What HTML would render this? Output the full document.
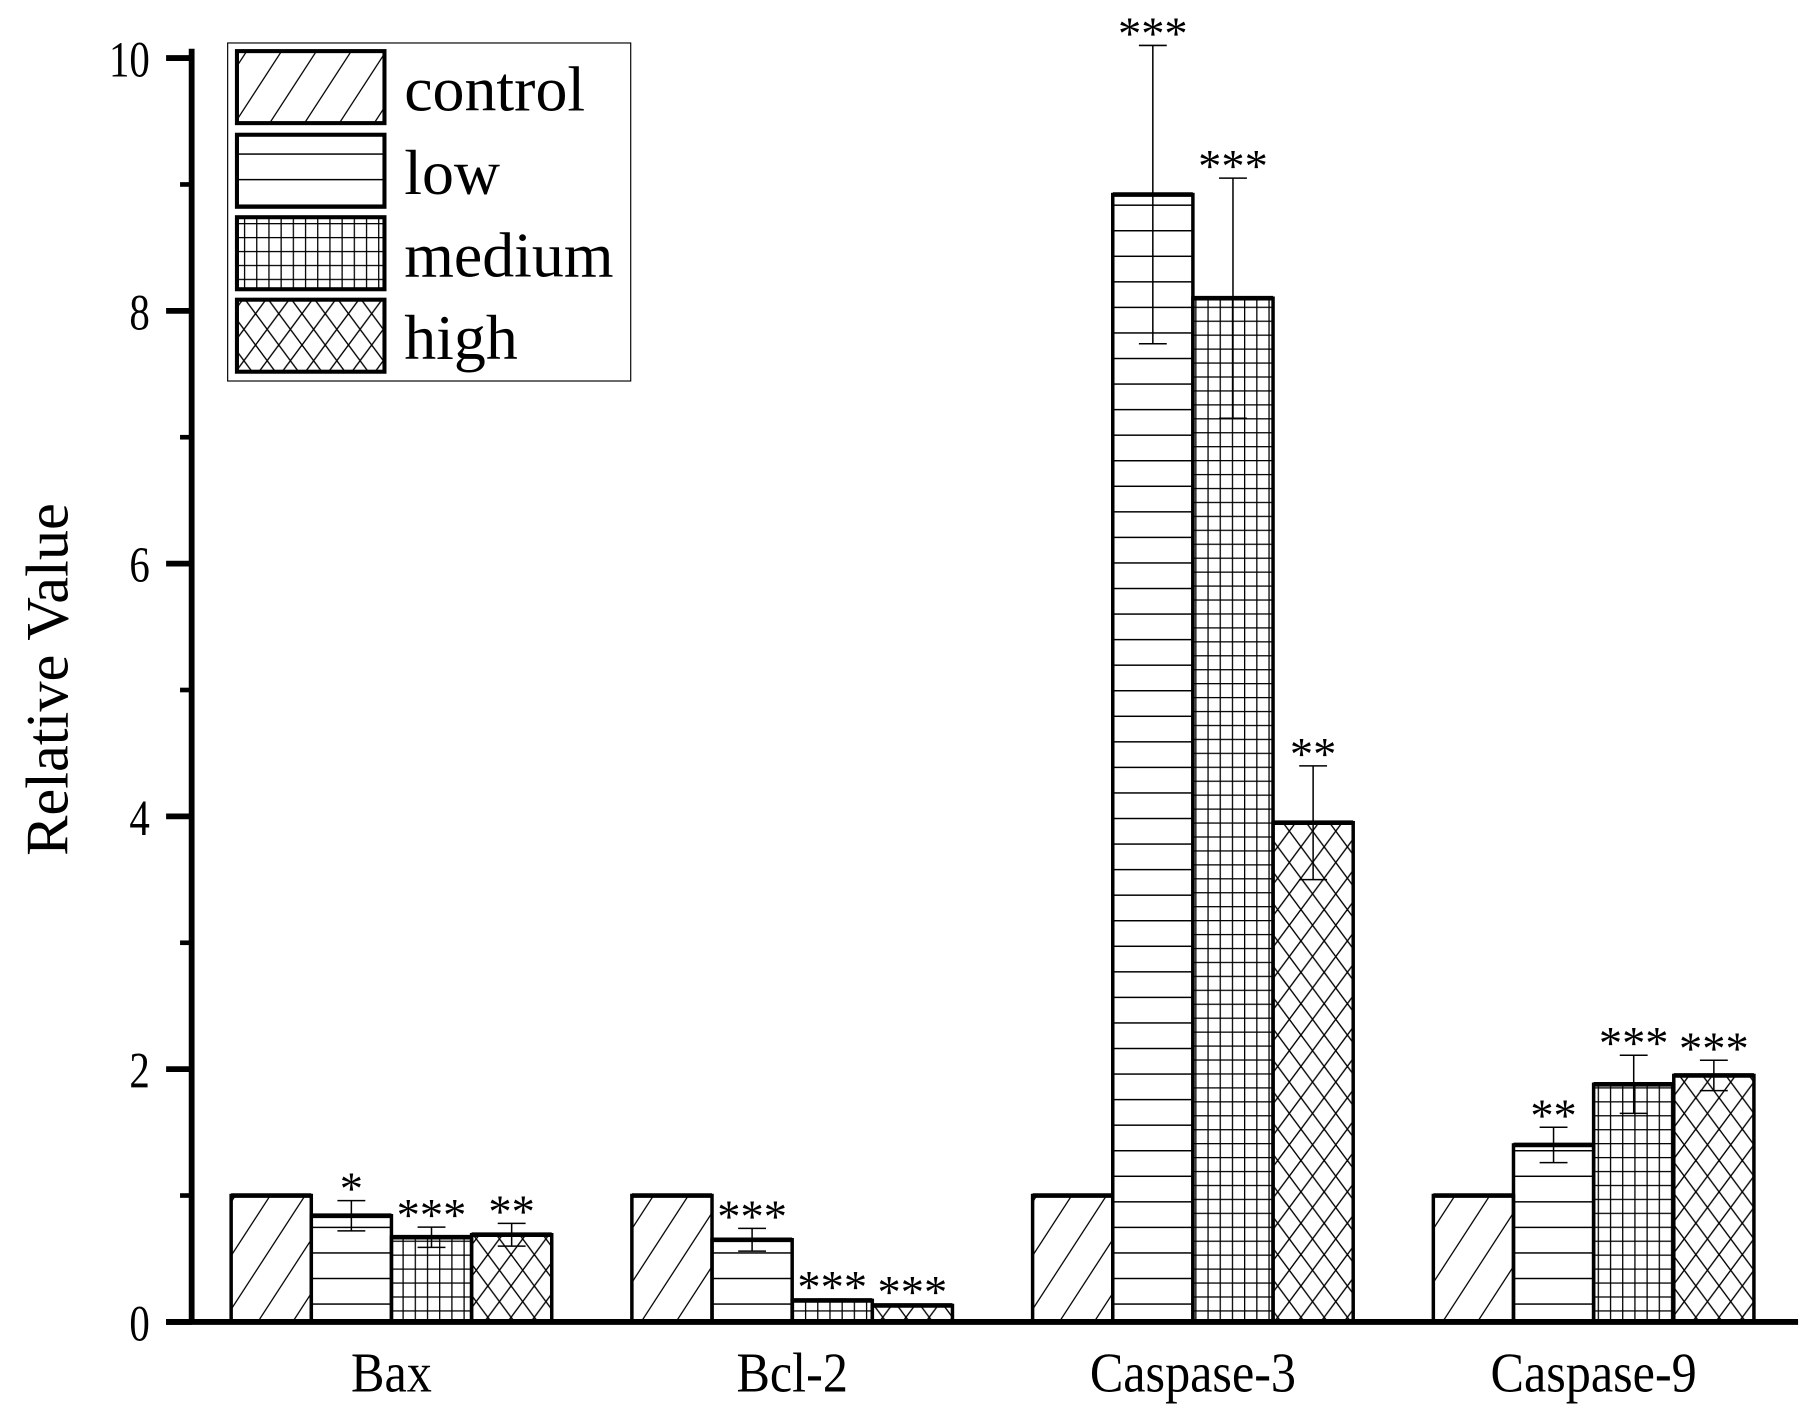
<!DOCTYPE html>
<html><head><meta charset="utf-8"><style>
html,body{margin:0;padding:0;background:#fff;}
svg{display:block;}
text{font-family:"Liberation Serif",serif;fill:#000;}
</style></head><body>
<svg id="chart" width="1812" height="1416" viewBox="0 0 1560 1219" preserveAspectRatio="none" xmlns="http://www.w3.org/2000/svg">
<defs>
<pattern id="p-control" patternUnits="userSpaceOnUse" width="30" height="1219" patternTransform="skewX(-33)">
<line x1="1" y1="0" x2="1" y2="1219" stroke="#000" stroke-width="1.3"/></pattern>
<pattern id="p-low" patternUnits="userSpaceOnUse" width="100" height="22">
<line x1="0" y1="0.5" x2="100" y2="0.5" stroke="#000" stroke-width="1.5"/></pattern>
<pattern id="p-medium" patternUnits="userSpaceOnUse" width="10.5" height="12">
<line x1="0.5" y1="0" x2="0.5" y2="12" stroke="#000" stroke-width="1.2"/>
<line x1="0" y1="0.5" x2="10.5" y2="0.5" stroke="#000" stroke-width="1.2"/></pattern>
<pattern id="p-high" patternUnits="userSpaceOnUse" width="20" height="27">
<line x1="0" y1="0" x2="20" y2="27" stroke="#000" stroke-width="1.2"/>
<line x1="20" y1="0" x2="0" y2="27" stroke="#000" stroke-width="1.2"/></pattern>
</defs>
<g id="plot"></g>
</svg>
<script>
const categories = ["Bax","Bcl-2","Caspase-3","Caspase-9"];
const seriesNames = ["control","low","medium","high"];
const controlVals = [1,1,1,1];
const lowVals = [0.84,0.65,8.92,1.40];
const mediumVals = [0.67,0.17,8.10,1.88];
const highVals = [0.69,0.13,3.95,1.95];
const controlErr = [0,0,0,0];
const lowErr = [0.12,0.09,1.18,0.14];
const mediumErr = [0.08,0.01,0.95,0.23];
const highErr = [0.09,0.01,0.45,0.12];
const lowStars = ["*","***","***","**"];
const mediumStars = ["***","***","***","***"];
const highStars = ["**","***","**","***"];
const controlStars = ["","","",""];
const yTicks = [0,2,4,6,8,10];
const yMinor = [1,3,5,7,9];

const NS="http://www.w3.org/2000/svg";
const g=document.getElementById('plot');
function mk(t,a,p){const e=document.createElementNS(NS,t);for(const k in a)e.setAttribute(k,a[k]);(p||g).appendChild(e);return e;}
const y0=1138, yScale=108.8;
const y=v=>y0-v*yScale;
const groupCenter=i=>337+i*345;
const barW=69;
const barX=(i,s)=>groupCenter(i)-2*barW+s*barW;

const vals=[controlVals,lowVals,mediumVals,highVals];
const errs=[controlErr,lowErr,mediumErr,highErr];
const stars=[controlStars,lowStars,mediumStars,highStars];
const pats=["p-control","p-low","p-medium","p-high"];

categories.forEach((c,i)=>{
  for(let s=0;s<4;s++){
    const x=barX(i,s), v=vals[s][i], top=y(v);
    const r=mk('rect',{x:x,y:top,width:barW,height:y0-top,fill:'url(#'+pats[s]+')',stroke:'#000','stroke-width':3});
    
    
    const tl=mk('line',{x1:x,y1:top,x2:x+barW,y2:top,stroke:'#000','stroke-width':4});
    
    
    const e=errs[s][i], cx=x+barW/2;
    if(e>0){
      const eg=mk('g',{stroke:'#000','stroke-width':1.3});
      
      
      mk('line',{x1:cx,y1:y(v+e),x2:cx,y2:y(v-e)},eg);
      mk('line',{x1:cx-12,y1:y(v+e),x2:cx+12,y2:y(v+e)},eg);
      mk('line',{x1:cx-12,y1:y(v-e),x2:cx+12,y2:y(v-e)},eg);
    }
    if(stars[s][i]){
      const t=mk('text',{x:cx,y:y(v+e)+3,'text-anchor':'middle','font-size':40,'font-family':'DejaVu Sans, sans-serif'});
      t.textContent=stars[s][i];
      
      
    }
  }
  const lab=mk('text',{x:0,y:0,'text-anchor':'middle','font-size':48,transform:'translate('+groupCenter(i)+',1198) scale(0.9,1)'});
  lab.textContent=c;
  
  
});

const ax=mk('g',{stroke:'#000'});


mk('line',{x1:165,y1:42,x2:165,y2:y0+2,'stroke-width':5},ax);
mk('line',{x1:143,y1:y0,x2:1548,y2:y0,'stroke-width':5},ax);
yTicks.forEach(v=>{
  mk('line',{x1:143,y1:y(v),x2:165,y2:y(v),'stroke-width':5},ax);
  const t=mk('text',{x:0,y:0,'text-anchor':'end','font-size':44,transform:'translate(129,'+(y(v)+16)+') scale(0.8,1)'});
  t.textContent=v;
  
  
});
yMinor.forEach(v=>{mk('line',{x1:155,y1:y(v),x2:165,y2:y(v),'stroke-width':4},ax);});

const yt=mk('text',{x:0,y:0,'text-anchor':'middle','font-size':52,transform:'translate(58,585) rotate(-90)'});
yt.textContent='Relative Value';



const lg=mk('g',{});


mk('rect',{x:196,y:37,width:347,height:291,fill:'#fff',stroke:'#000','stroke-width':1},lg);
const rowsY=[44,116,187,258];
seriesNames.forEach((n,s)=>{
  const sw=mk('rect',{x:204,y:rowsY[s],width:127,height:62,fill:'url(#'+pats[s]+')',stroke:'#000','stroke-width':3.5},lg);
  
  
  const t=mk('text',{x:348,y:rowsY[s]+51,'font-size':55},lg);
  t.textContent=n;
  
  
});
</script>
</body></html>
